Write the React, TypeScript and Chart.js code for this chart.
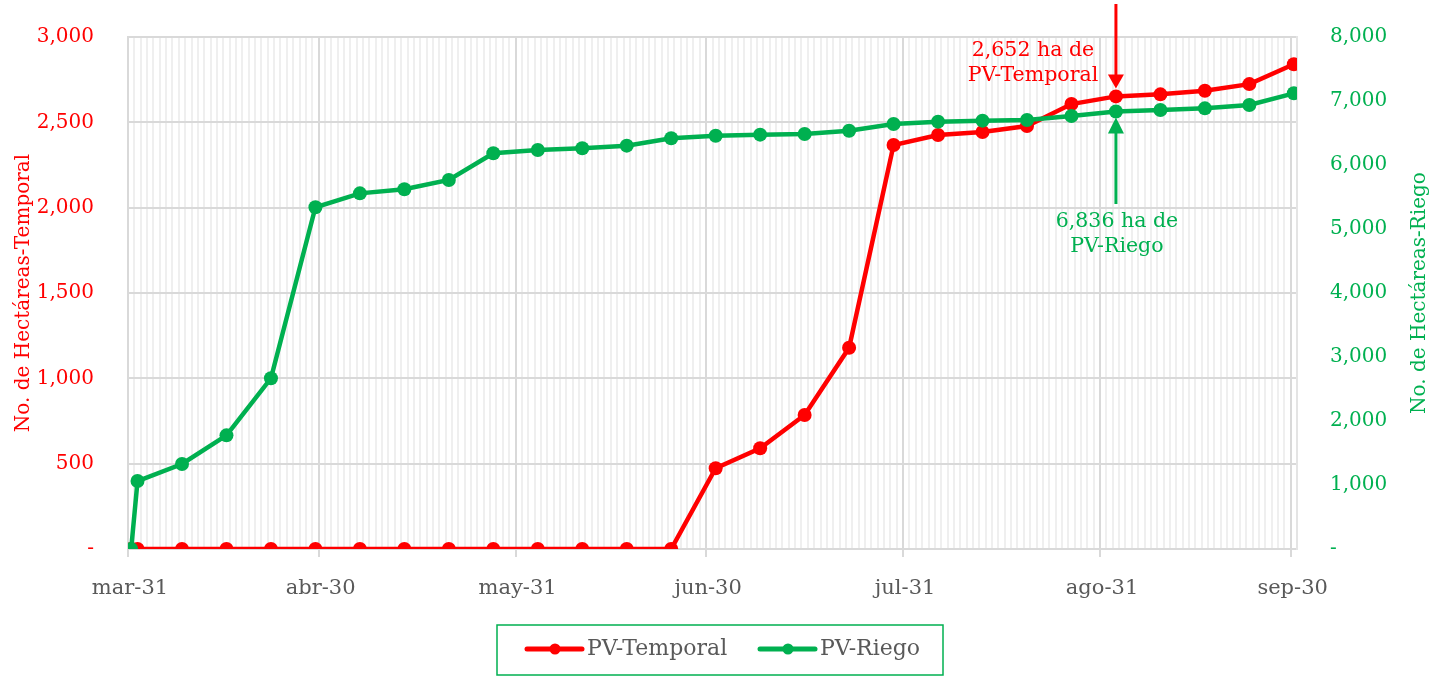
import React, { useEffect, useRef } from "react";
import { Chart, registerables } from "chart.js";

Chart.register(...registerables);

// ---- data ----
const dates = [
  "2021-03-31", "2021-04-01", "2021-04-08", "2021-04-15", "2021-04-22", "2021-04-29",
  "2021-05-06", "2021-05-13", "2021-05-20", "2021-05-27", "2021-06-03", "2021-06-10",
  "2021-06-17", "2021-06-24", "2021-07-01", "2021-07-08", "2021-07-15", "2021-07-22",
  "2021-07-29", "2021-08-05", "2021-08-12", "2021-08-19", "2021-08-26", "2021-09-02",
  "2021-09-09", "2021-09-16", "2021-09-23", "2021-09-30",
];
const pvTemporal = [
  0, 0, 0, 0, 0, 0, 0, 0, 0, 0, 0, 0, 0, 0,
  473, 590, 785, 1179, 2367, 2426, 2443, 2478, 2607, 2652, 2664, 2685, 2724, 2840,
];
const pvRiego = [
  0, 1062, 1328, 1776, 2667, 5340, 5557, 5620, 5766, 6183, 6234, 6261, 6302, 6417,
  6458, 6474, 6484, 6536, 6641, 6677, 6693, 6703, 6766, 6836, 6859, 6885, 6938, 7120,
];
const monthTickDates = ["2021-03-31", "2021-04-30", "2021-05-31", "2021-06-30", "2021-07-31", "2021-08-31", "2021-09-30"];
const monthTickLabels = ["mar-31", "abr-30", "may-31", "jun-30", "jul-31", "ago-31", "sep-30"];
const axisEndDate = "2021-10-01";
const leftTicks = [0, 500, 1000, 1500, 2000, 2500, 3000];
const rightTicks = [0, 1000, 2000, 3000, 4000, 5000, 6000, 7000, 8000];
const annotationDate = "2021-09-02";
const annotationTemporal = ["2,652 ha de", "PV-Temporal"];
const annotationRiego = ["6,836 ha de", "PV-Riego"];

const RED = "#FF0000";
const GREEN = "#00B050";
const GRAY = "#595959";
const FONT = "'DejaVu Serif', serif";

const dayOf = (d: string) =>
  Math.round((Date.parse(d + "T00:00:00Z") - Date.parse(dates[0] + "T00:00:00Z")) / 86400000);
const majorDays = monthTickDates.map(dayOf);
const endDay = dayOf(axisEndDate);
const fmt = (v: number) => (v === 0 ? "-" : v.toLocaleString("en-US"));

const overlayPlugin = {
  id: "overlay",
  afterDraw(chart: any) {
    const ctx = chart.ctx as CanvasRenderingContext2D;
    const x = chart.scales.x;
    const yL = chart.scales.y;
    const yR = chart.scales.y1;
    const idx = dates.indexOf(annotationDate);
    const px = x.getPixelForValue(dayOf(annotationDate) + 0.5);
    const pyT = yL.getPixelForValue(pvTemporal[idx]);
    const pyR = yR.getPixelForValue(pvRiego[idx]);

    ctx.save();
    // red arrow (down)
    const tipT = pyT - 8;
    ctx.strokeStyle = RED;
    ctx.fillStyle = RED;
    ctx.lineWidth = 3;
    ctx.beginPath();
    ctx.moveTo(px, 4);
    ctx.lineTo(px, tipT - 12);
    ctx.stroke();
    ctx.beginPath();
    ctx.moveTo(px - 8, tipT - 14);
    ctx.lineTo(px + 8, tipT - 14);
    ctx.lineTo(px, tipT);
    ctx.closePath();
    ctx.fill();
    // red text
    ctx.font = `20.5px ${FONT}`;
    ctx.textAlign = "center";
    ctx.textBaseline = "middle";
    ctx.fillText(annotationTemporal[0], px - 83, 51);
    ctx.fillText(annotationTemporal[1], px - 83, 76);

    // green arrow (up)
    const tipR = pyR + 6;
    ctx.strokeStyle = GREEN;
    ctx.fillStyle = GREEN;
    ctx.lineWidth = 3;
    ctx.beginPath();
    ctx.moveTo(px, tipR + 12);
    ctx.lineTo(px, 204);
    ctx.stroke();
    ctx.beginPath();
    ctx.moveTo(px - 8, tipR + 16);
    ctx.lineTo(px + 8, tipR + 16);
    ctx.lineTo(px, tipR);
    ctx.closePath();
    ctx.fill();
    ctx.fillText(annotationRiego[0], px + 1, 222);
    ctx.fillText(annotationRiego[1], px + 1, 247);

    // right axis title (reads bottom to top)
    ctx.font = `20px ${FONT}`;
    ctx.save();
    ctx.translate(1420, (chart.chartArea.top + chart.chartArea.bottom) / 2);
    ctx.rotate(-Math.PI / 2);
    ctx.fillText("No. de Hectáreas-Riego", 0, 0);
    ctx.restore();

    // legend
    const lx = 497, ly = 625, lw = 446, lh = 50;
    ctx.strokeStyle = GREEN;
    ctx.lineWidth = 1.5;
    ctx.strokeRect(lx, ly, lw, lh);
    const cy = ly + lh / 2 - 1;
    const items = [
      { label: "PV-Temporal", color: RED, x0: 527 },
      { label: "PV-Riego", color: GREEN, x0: 760 },
    ];
    for (const it of items) {
      ctx.strokeStyle = it.color;
      ctx.fillStyle = it.color;
      ctx.lineWidth = 5;
      ctx.lineCap = "round";
      ctx.beginPath();
      ctx.moveTo(it.x0, cy);
      ctx.lineTo(it.x0 + 55, cy);
      ctx.stroke();
      ctx.beginPath();
      ctx.arc(it.x0 + 28, cy, 5.5, 0, Math.PI * 2);
      ctx.fill();
      ctx.fillStyle = GRAY;
      ctx.textAlign = "left";
      ctx.font = `22px ${FONT}`;
      ctx.fillText(it.label, it.x0 + 60, cy);
    }
    ctx.restore();
  },
};

export default function App() {
  const ref = useRef<HTMLCanvasElement | null>(null);

  useEffect(() => {
    if (!ref.current) return;
    const xs = dates.map((d) => dayOf(d) + 0.5);
    const chart = new Chart(ref.current, {
      type: "line",
      data: {
        datasets: [
          {
            label: "PV-Temporal",
            data: xs.map((x, i) => ({ x, y: pvTemporal[i] })),
            borderColor: RED,
            backgroundColor: RED,
            borderWidth: 4.5,
            pointRadius: 7,
            pointBorderWidth: 0,
            pointHoverRadius: 7,
            yAxisID: "y",
            order: 1,
          },
          {
            label: "PV-Riego",
            data: xs.map((x, i) => ({ x, y: pvRiego[i] })),
            borderColor: GREEN,
            backgroundColor: GREEN,
            borderWidth: 4.5,
            pointRadius: 7,
            pointBorderWidth: 0,
            pointHoverRadius: 7,
            yAxisID: "y1",
            order: 0,
          },
        ],
      },
      options: {
        animation: false,
        responsive: true,
        maintainAspectRatio: false,
        layout: { autoPadding: false, padding: { top: 37, left: 0, right: 0, bottom: 0 } },
        plugins: {
          legend: { display: false },
          tooltip: { enabled: false },
          title: { display: false },
        },
        scales: {
          x: {
            type: "linear",
            min: 0,
            max: endDay,
            afterFit: (s: any) => {
              s.height = 128;
              s.paddingLeft = 0;
              s.paddingRight = 0;
            },
            afterBuildTicks: (s: any) => {
              const t = [];
              for (let d = 0; d <= endDay; d++) t.push({ value: d });
              s.ticks = t;
            },
            ticks: {
              autoSkip: false,
              maxRotation: 0,
              minRotation: 0,
              padding: 19,
              labelOffset: 2,
              color: GRAY,
              font: { family: FONT, size: 21 },
              callback: (v: any) => {
                const i = majorDays.indexOf(Number(v));
                return i >= 0 ? monthTickLabels[i] : "";
              },
            },
            grid: {
              lineWidth: 2,
              tickLength: 8,
              color: (c: any) => (majorDays.includes(c.tick?.value) ? "#d9d9d9" : "#efefef"),
              tickColor: (c: any) => (majorDays.includes(c.tick?.value) ? "#d9d9d9" : "rgba(0,0,0,0)"),
            },
            border: { color: "#d9d9d9", width: 2 },
          },
          y: {
            type: "linear",
            position: "left",
            min: 0,
            max: 3000,
            afterFit: (s: any) => {
              s.width = 128;
              s.paddingTop = 0;
              s.paddingBottom = 0;
            },
            afterBuildTicks: (s: any) => {
              s.ticks = leftTicks.map((value) => ({ value }));
            },
            ticks: {
              padding: 34,
              color: RED,
              font: { family: FONT, size: 20 },
              callback: (v: any) => fmt(Number(v)),
            },
            grid: { color: "#d9d9d9", lineWidth: 2, drawTicks: false },
            border: { color: "#d9d9d9", width: 2 },
            title: {
              display: true,
              text: "No. de Hectáreas-Temporal",
              color: RED,
              font: { family: FONT, size: 20 },
              padding: { top: 12, bottom: 0 },
            },
          },
          y1: {
            type: "linear",
            position: "right",
            min: 0,
            max: 8000,
            afterFit: (s: any) => {
              s.width = 137;
              s.paddingTop = 0;
              s.paddingBottom = 0;
            },
            afterBuildTicks: (s: any) => {
              s.ticks = rightTicks.map((value) => ({ value }));
            },
            ticks: {
              padding: 33,
              color: GREEN,
              font: { family: FONT, size: 20 },
              callback: (v: any) => fmt(Number(v)),
            },
            grid: { drawOnChartArea: false, drawTicks: false },
            border: { color: "#e4e4e4", width: 2 },
          },
        },
      },
      plugins: [overlayPlugin],
    });
    return () => chart.destroy();
  }, []);

  return (
    <div style={{ position: "fixed", left: 0, top: 0, width: 1434, height: 677, background: "#fff" }}>
      <canvas ref={ref} />
    </div>
  );
}
